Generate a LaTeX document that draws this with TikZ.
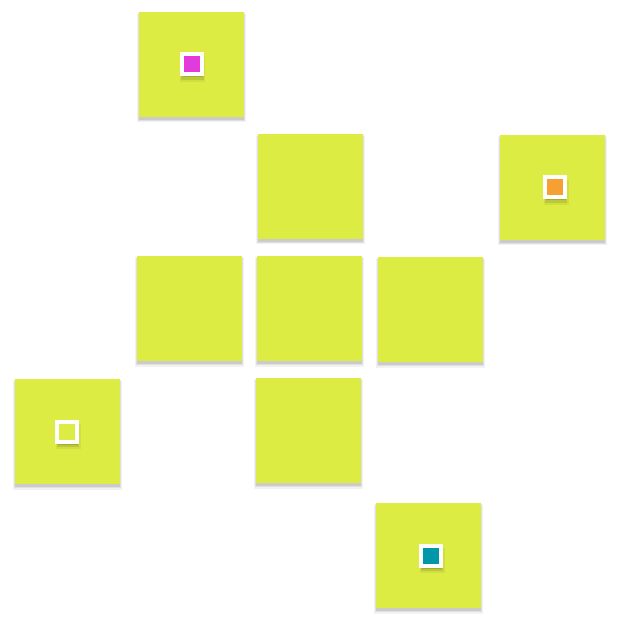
\documentclass[tikz,border=0pt]{standalone}
\usetikzlibrary{shadows}
\definecolor{sticky}{HTML}{DDEC43}
\definecolor{mag}{HTML}{E03BDB}
\definecolor{org}{HTML}{F5A033}
\definecolor{teal2}{HTML}{0097A9}
\begin{document}
\begin{tikzpicture}[x=1pt,y=-1pt,
  sq/.style={fill=sticky,minimum size=105pt,inner sep=0pt,outer sep=0pt,
    drop shadow={shadow xshift=0pt,shadow yshift=-3pt,shadow scale=1.045,opacity=0.05,fill=black},
    drop shadow={shadow xshift=0pt,shadow yshift=-3pt,shadow scale=1.025,opacity=0.07,fill=black},
    drop shadow={shadow xshift=0pt,shadow yshift=-3pt,shadow scale=1.005,opacity=0.09,fill=black}},
  tag/.style={fill=#1,draw=white,line width=4pt,minimum size=20pt,inner sep=0pt,
    drop shadow={shadow xshift=1pt,shadow yshift=-4pt,shadow scale=1.25,opacity=0.06,fill=black},
    drop shadow={shadow xshift=1pt,shadow yshift=-4pt,shadow scale=1.12,opacity=0.1,fill=black},
    drop shadow={shadow xshift=1pt,shadow yshift=-3pt,shadow scale=1.0,opacity=0.12,fill=black}}]
\useasboundingbox[fill=white] (0,0) rectangle (620,620);
\node[sq] (tl) at (191.5,64.5) {};
\node[sq] (tm) at (310.5,186.5) {};
\node[sq] (tr) at (552.5,187.5) {};
\node[sq] (ml) at (189.5,308.5) {};
\node[sq] (mc) at (309.5,308.5) {};
\node[sq] (mr) at (430.5,309.5) {};
\node[sq] (bl) at (67.5,431.5) {};
\node[sq] (bm) at (308.5,430.5) {};
\node[sq] (br) at (428.5,555.5) {};
\node[tag=mag] (t1) at (tl.center) {};
\node[tag=org] (t2) at ([xshift=2.5pt]tr.center) {};
\node[tag=sticky] (t3) at ([xshift=-0.5pt]bl.center) {};
\node[tag=teal2] (t4) at ([xshift=2.5pt]br.center) {};
\end{tikzpicture}
\end{document}
